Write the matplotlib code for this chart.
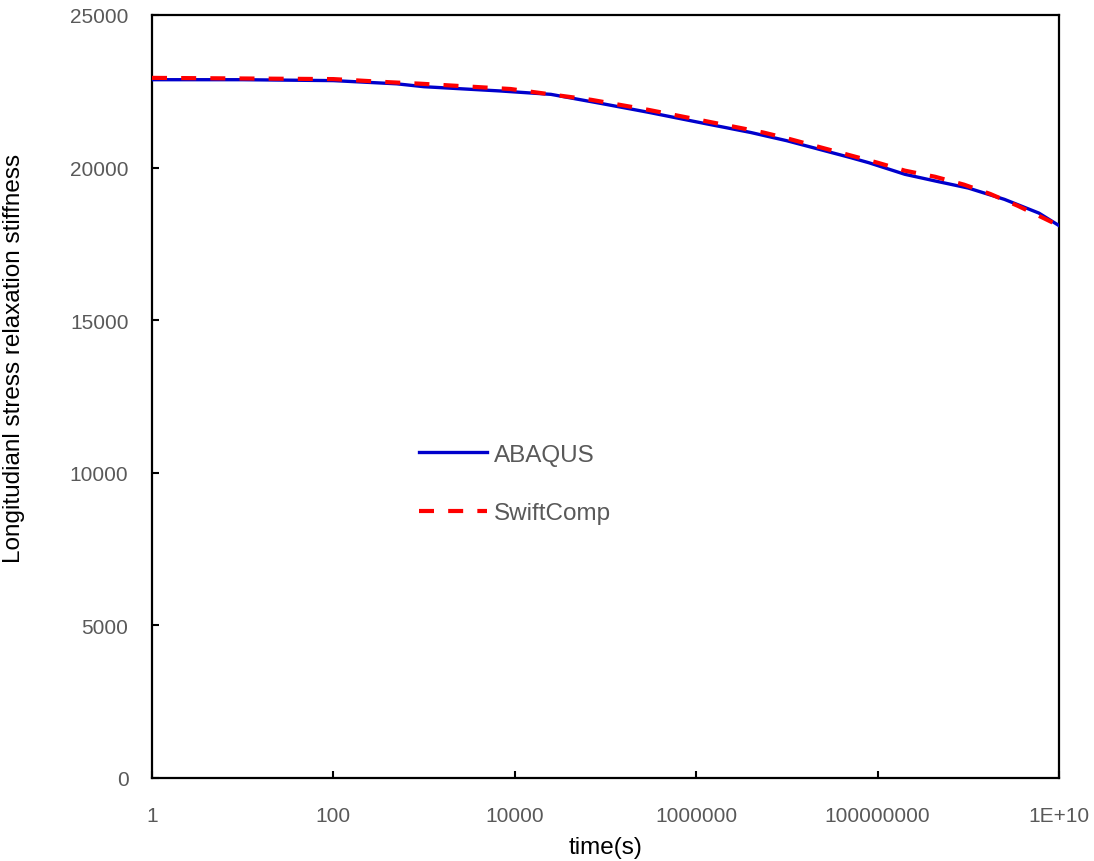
import matplotlib
matplotlib.use("Agg")
import matplotlib.pyplot as plt

# ---- data ----
abaqus_t = [1, 10, 100, 500, 1000, 7000, 25000, 90000, 3e5, 1e6, 4e6, 1e7,
            5e7, 8e7, 2e8, 4.5e8, 1e9, 2.5e9, 6e9, 1e10]
abaqus_E = [22880, 22880, 22850, 22745, 22650, 22510, 22400, 22100, 21810, 21500,
            21150, 20880, 20330, 20160, 19780, 19550, 19330, 18960, 18510, 18100]

swift_t = [1, 100, 400, 900, 9000, 70000, 3e5, 5.5e6, 1e7, 1e8, 2e8, 4.3e8,
           9e8, 1.75e9, 3.5e9, 6.5e9, 1e10]
swift_E = [22940, 22900, 22800, 22750, 22575, 22220, 21890, 21150, 20960, 20160,
           19900, 19700, 19440, 19135, 18750, 18370, 18100]

x_ticks = [1, 1e2, 1e4, 1e6, 1e8, 1e10]
x_tick_labels = ["1", "100", "10000", "1000000", "100000000", "1E+10"]
y_ticks = [0, 5000, 10000, 15000, 20000, 25000]

plt.rcParams['font.family'] = ['Liberation Sans', 'DejaVu Sans']
grey = "#595959"

fig = plt.figure(figsize=(10.94, 8.62), dpi=100)
ax = fig.add_axes([152/1094, 1-779/862, (1059-152)/1094, (779-16)/862])

ax.plot(abaqus_t, abaqus_E, color="#0000CC", lw=2.4, label="ABAQUS", zorder=3)
ax.plot(swift_t, swift_E, color="#FF0000", lw=3.0, dashes=(3.6, 3.4),
        label="SwiftComp", zorder=4)

ax.set_xscale("log")
ax.set_xlim(1, 1e10)
ax.set_ylim(0, 25000)
ax.set_xticks(x_ticks)
ax.set_xticklabels(x_tick_labels)
ax.minorticks_off()
ax.set_yticks(y_ticks)
ax.set_yticklabels([str(v) for v in y_ticks])

ax.tick_params(axis="both", direction="in", length=5, width=1.5,
               labelsize=15, labelcolor=grey, color="black")
ax.tick_params(axis="x", pad=20)
ax.tick_params(axis="y", pad=17)
for s in ax.spines.values():
    s.set_linewidth(1.6)
    s.set_color("black")

ax.set_xlabel("time(s)", fontsize=17.5, color="black", labelpad=8)
ax.set_ylabel("Longitudianl stress relaxation stiffness", fontsize=17.5,
              color="black")
ax.yaxis.set_label_coords((25-152)/907, (779-358)/763)

leg = ax.legend(loc="center left", bbox_to_anchor=((419-152)/907, (779-485)/763),
                frameon=False, fontsize=17.5, handlelength=2.8, handletextpad=0.3,
                labelspacing=1.5, borderpad=0, borderaxespad=0)
for t in leg.get_texts():
    t.set_color(grey)

fig.savefig("out.png", dpi=100)
